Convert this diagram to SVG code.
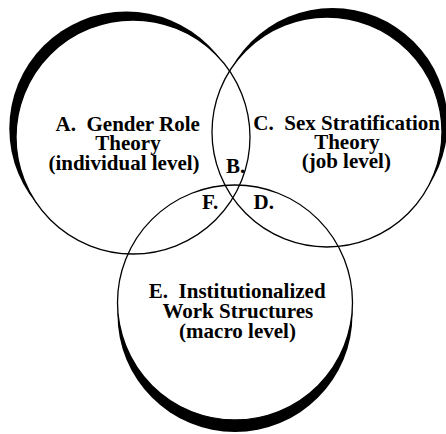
<svg xmlns="http://www.w3.org/2000/svg" width="446" height="434" viewBox="0 0 446 434">
<style>
.ring{fill:none;stroke:#000;stroke-width:1.3}
.shade{fill:#000}
.t{font-family:'Liberation Serif','DejaVu Serif','Times New Roman',serif;font-weight:700;font-size:21px;fill:#000}
.c{text-anchor:middle}
</style>
<defs>
<mask id="mA" maskUnits="userSpaceOnUse" x="0" y="0" width="446" height="434"><rect width="446" height="434" fill="#fff"/><circle cx="133" cy="137" r="117" fill="#000"/></mask>
<mask id="mC" maskUnits="userSpaceOnUse" x="0" y="0" width="446" height="434"><rect width="446" height="434" fill="#fff"/><circle cx="327" cy="132" r="115" fill="#000"/></mask>
<mask id="mE" maskUnits="userSpaceOnUse" x="0" y="0" width="446" height="434"><rect width="446" height="434" fill="#fff"/><circle cx="235" cy="302.5" r="117.5" fill="#000"/></mask>
</defs>
<rect width="446" height="434" fill="#fff"/>
<g id="nodeA">
<circle class="shade" cx="126.3" cy="128.6" r="117" mask="url(#mA)"/>
<circle class="ring" cx="133" cy="137" r="117"/>
<g class="t" font-family="Liberation Serif, serif" font-weight="bold">
<text class="c" x="127.7" y="130.5" xml:space="preserve">A.  Gender Role</text>
<text class="c" x="128" y="150">Theory</text>
<text class="c" x="124" y="169.5">(individual level)</text>
</g>
</g>
<g id="nodeC">
<circle class="shade" cx="332.5" cy="123" r="115" mask="url(#mC)"/>
<circle class="ring" cx="327" cy="132" r="115"/>
<g class="t" font-family="Liberation Serif, serif" font-weight="bold">
<text class="c" x="346.7" y="129.5" xml:space="preserve">C.  Sex Stratification</text>
<text class="c" x="346.8" y="148.5">Theory</text>
<text class="c" x="346.3" y="168">(job level)</text>
</g>
</g>
<g id="nodeE">
<circle class="shade" cx="235" cy="314.5" r="117.5" mask="url(#mE)"/>
<circle class="ring" cx="235" cy="302.5" r="117.5"/>
<g class="t" font-family="Liberation Serif, serif" font-weight="bold">
<text class="c" x="237.2" y="297.5" xml:space="preserve">E.  Institutionalized</text>
<text class="c" x="237.8" y="318">Work Structures</text>
<text class="c" x="237.5" y="338">(macro level)</text>
</g>
</g>
<g id="nodeB" class="t" font-family="Liberation Serif, serif" font-weight="bold"><text x="226" y="172.5">B.</text></g>
<g id="nodeF" class="t" font-family="Liberation Serif, serif" font-weight="bold"><text x="202" y="208.5">F.</text></g>
<g id="nodeD" class="t" font-family="Liberation Serif, serif" font-weight="bold"><text x="253.5" y="208.5">D.</text></g>
<g id="connectors"/>
</svg>
